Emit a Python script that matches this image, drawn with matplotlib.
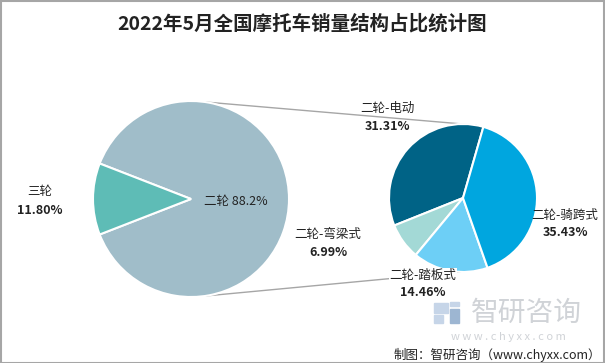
import numpy as np
import matplotlib
matplotlib.use("Agg")
import matplotlib.pyplot as plt
from matplotlib.patches import Rectangle

plt.rcParams['font.family'] = ['Noto Sans CJK SC', 'DejaVu Sans']

# ---- data ----
title = "2022年5月全国摩托车销量结构占比统计图"
main_labels = ["二轮", "三轮"]
main_values = [88.2, 11.80]
sub_labels = ["二轮-电动", "二轮-弯梁式", "二轮-踏板式", "二轮-骑跨式"]
sub_values = [31.31, 6.99, 14.46, 35.43]

main_colors = ["#a0bdc9", "#5ebcb6"]
sub_colors = ["#006386", "#a3d9d6", "#6dcff6", "#00a6df"]

W, H = 605, 363
fig = plt.figure(figsize=(W / 100, H / 100), dpi=100)
ax = fig.add_axes([0, 0, 1, 1])

# big pie
c1 = (191, H - 199)
r1 = 98
start1 = 180 + main_values[1] / sum(main_values) * 180
ax.pie(main_values, colors=main_colors, startangle=start1, center=c1, radius=r1,
       wedgeprops=dict(edgecolor="white", linewidth=1.5), frame=True)

# small pie
c2 = (463, H - 198)
r2 = 74
ax.pie(sub_values, colors=sub_colors, startangle=74, center=c2, radius=r2,
       wedgeprops=dict(edgecolor="white", linewidth=1.5), frame=True)

ax.set_xlim(0, W)
ax.set_ylim(0, H)
ax.set_aspect('equal')
ax.axis('off')

# connector lines
a_top1 = np.deg2rad(82)
a_bot1 = np.deg2rad(-82)
a_bot2 = np.deg2rad(-92)
ax.plot([c1[0] + r1 * np.cos(a_top1), c2[0] + r2 * np.cos(np.deg2rad(80))],
        [c1[1] + r1 * np.sin(a_top1), c2[1] + r2 * np.sin(np.deg2rad(80))],
        color="#a6a6a6", lw=1, zorder=0)
ax.plot([c1[0] + r1 * np.cos(a_bot1), c2[0] + r2 * np.cos(a_bot2)],
        [c1[1] + r1 * np.sin(a_bot1), c2[1] + r2 * np.sin(a_bot2)],
        color="#a6a6a6", lw=1, zorder=0)

# title
ax.text(302, H - 24, title, ha="center", va="center", fontsize=14,
        fontweight="bold", color="#222222")

tc = "#222222"
# main labels
ax.text(40, H - 192, main_labels[1], ha="center", va="center", fontsize=9, color=tc)
ax.text(40, H - 210, f"{main_values[1]:.2f}%", ha="center", va="center", fontsize=9,
        fontweight="bold", color=tc)
ax.text(236, H - 201, f"{main_labels[0]} {main_values[0]}%", ha="center", va="center",
        fontsize=9, color=tc)

# sub labels
sub_pos = [(387, 108), (328, 234), (423, 275), (565, 215)]
for lab, val, (x, y) in zip(sub_labels, sub_values, sub_pos):
    ax.text(x, H - y, lab, ha="center", va="center", fontsize=9, color=tc,
            bbox=dict(facecolor="white", edgecolor="none", pad=0.5) if lab == "二轮-踏板式" else None,
            zorder=5)
    ax.text(x, H - y - 18, f"{val:.2f}%", ha="center", va="center", fontsize=9,
            fontweight="bold", color=tc, zorder=5)

# watermark
ax.add_patch(Rectangle((434, H - 313), 14, 10, color="#c6d5e8", zorder=1))
ax.add_patch(Rectangle((434, H - 323), 9, 8, color="#c6d5e8", zorder=1))
ax.add_patch(Rectangle((450, H - 323), 9, 14, color="#9db6d2", zorder=1))
ax.add_patch(Rectangle((450, H - 306), 9, 4, color="#c6d5e8", zorder=1))
ax.text(526, H - 313, "智研咨询", ha="center", va="center", fontsize=20,
        color="#d0d3d7", zorder=1)
ax.text(508, H - 337, "w w w . c h y x x . c o m", ha="center", va="center",
        fontsize=8, color="#d0d3d7", zorder=1)
ax.text(601, H - 355, "制图：智研咨询（www.chyxx.com）", ha="right", va="center",
        fontsize=9, color="#222222", zorder=2)

# frame
fig.patches.append(Rectangle((0.5 / W, 0.5 / H), 1 - 1.5 / W, 1 - 1.5 / H,
                             transform=fig.transFigure, fill=False,
                             edgecolor="#a6a6a6", lw=1.5))

fig.savefig("out.png", dpi=100)
